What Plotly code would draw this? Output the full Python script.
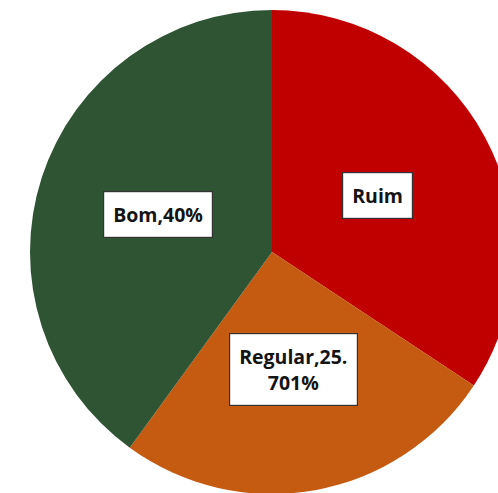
import math
import plotly.graph_objects as go

# Slice data (percent shares), in drawing order starting at 12 o'clock, clockwise
categories = ["Ruim", "Regular", "Bom"]
shares = [34.299, 25.701, 40.0]
slice_colors = ["#C00000", "#C55A11", "#2F5434"]
# Data-label text as shown in the callout boxes
label_texts = ["Ruim", "Regular,25.<br>701%", "Bom,40%"]

W, H = 544, 494
M_TOP = 10
plot_h = H - M_TOP
radius_px = min(W, plot_h) / 2

fig = go.Figure(
    go.Pie(
        labels=categories,
        values=shares,
        sort=False,
        direction="clockwise",
        rotation=0,
        marker=dict(colors=slice_colors, line=dict(width=0)),
        textinfo="none",
        hoverinfo="label+percent",
        showlegend=False,
        domain=dict(x=[0, 1], y=[0, 1]),
    )
)

# Callout boxes placed along each slice's mid-angle
total = sum(shares)
start = 0.0
label_frac = 0.495
for cat, val, txt in zip(categories, shares, label_texts):
    sweep = 360.0 * val / total
    mid = math.radians(start + sweep / 2)
    start += sweep
    dx = label_frac * radius_px * math.sin(mid)
    dy = label_frac * radius_px * math.cos(mid)
    fig.add_annotation(
        x=0.5 + dx / W,
        y=0.5 + dy / plot_h,
        xref="paper",
        yref="paper",
        xanchor="center",
        yanchor="middle",
        text=txt,
        showarrow=False,
        font=dict(family="Open Sans", size=19.5, color="#141414", weight="bold"),
        bgcolor="white",
        bordercolor="#333333",
        borderwidth=1.2,
        borderpad=9,
        align="center",
    )

fig.update_layout(
    width=W,
    height=H,
    margin=dict(l=0, r=0, t=M_TOP, b=0),
    paper_bgcolor="white",
    plot_bgcolor="white",
)

fig.write_html(
    "out.html",
    post_script=(
        "document.documentElement.style.overflow='hidden';"
        "document.body.style.overflow='hidden';"
        "document.body.style.margin='0';"
    ),
)
